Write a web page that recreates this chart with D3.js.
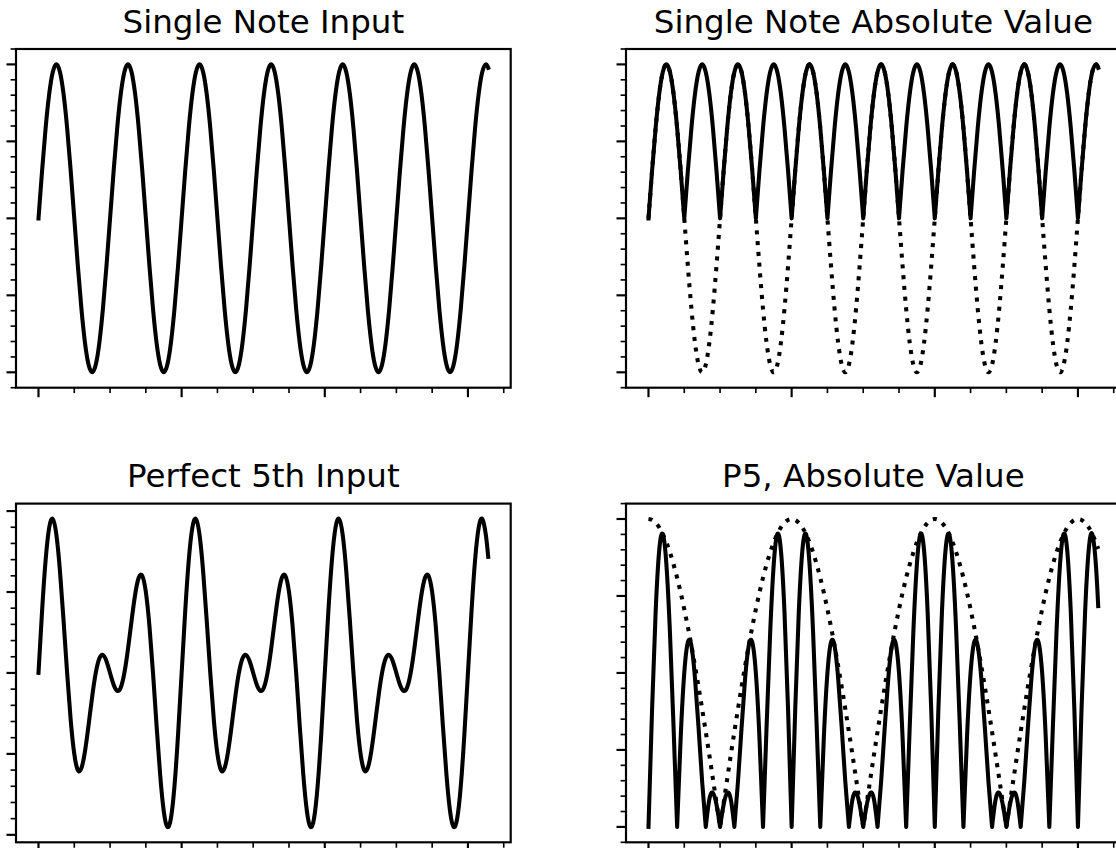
<!DOCTYPE html>
<html><head><meta charset="utf-8">
<script src="https://cdn.jsdelivr.net/npm/d3@7"></script>
<style>html,body{margin:0;padding:0;background:#fff;} svg{display:block;}</style>
</head><body>
<svg id="chart" width="1116" height="848"></svg>
<script>
// ---- data ----
const xValues = [0,0.05,0.1,0.15,0.2,0.25,0.3,0.35,0.4,0.45,0.5,0.55,0.6,0.65,0.7,0.75,0.8,0.85,0.9,0.95,
1,1.05,1.1,1.15,1.2,1.25,1.3,1.35,1.4,1.45,1.5,1.55,1.6,1.65,1.7,1.75,1.8,1.85,1.9,1.95,
2,2.05,2.1,2.15,2.2,2.25,2.3,2.35,2.4,2.45,2.5,2.55,2.6,2.65,2.7,2.75,2.8,2.85,2.9,2.95,
3,3.05,3.1,3.15,3.2,3.25,3.3,3.35,3.4,3.45,3.5,3.55,3.6,3.65,3.7,3.75,3.8,3.85,3.9,3.95,
4,4.05,4.1,4.15,4.2,4.25,4.3,4.35,4.4,4.45,4.5,4.55,4.6,4.65,4.7,4.75,4.8,4.85,4.9,4.95,
5,5.05,5.1,5.15,5.2,5.25,5.3,5.35,5.4,5.45,5.5,5.55,5.6,5.65,5.7,5.75,5.8,5.85,5.9,5.95,
6,6.05,6.1,6.15,6.2,6.25,6.2832];

const singleNote = [0,0.309,0.588,0.809,0.951,1,0.951,0.809,0.588,0.309,0,-0.309,-0.588,-0.809,-0.951,-1,-0.951,-0.809,-0.588,-0.309,
0,0.309,0.588,0.809,0.951,1,0.951,0.809,0.588,0.309,0,-0.309,-0.588,-0.809,-0.951,-1,-0.951,-0.809,-0.588,-0.309,
0,0.309,0.588,0.809,0.951,1,0.951,0.809,0.588,0.309,0,-0.309,-0.588,-0.809,-0.951,-1,-0.951,-0.809,-0.588,-0.309,
0,0.309,0.588,0.809,0.951,1,0.951,0.809,0.588,0.309,0,-0.309,-0.588,-0.809,-0.951,-1,-0.951,-0.809,-0.588,-0.309,
0,0.309,0.588,0.809,0.951,1,0.951,0.809,0.588,0.309,0,-0.309,-0.588,-0.809,-0.951,-1,-0.951,-0.809,-0.588,-0.309,
0,0.309,0.588,0.809,0.951,1,0.951,0.809,0.588,0.309,0,-0.309,-0.588,-0.809,-0.951,-1,-0.951,-0.809,-0.588,-0.309,
0,0.309,0.588,0.809,0.951,1,0.978];

const singleNoteAbs = [0,0.309,0.588,0.809,0.951,1,0.951,0.809,0.588,0.309,0,0.309,0.588,0.809,0.951,1,0.951,0.809,0.588,0.309,
0,0.309,0.588,0.809,0.951,1,0.951,0.809,0.588,0.309,0,0.309,0.588,0.809,0.951,1,0.951,0.809,0.588,0.309,
0,0.309,0.588,0.809,0.951,1,0.951,0.809,0.588,0.309,0,0.309,0.588,0.809,0.951,1,0.951,0.809,0.588,0.309,
0,0.309,0.588,0.809,0.951,1,0.951,0.809,0.588,0.309,0,0.309,0.588,0.809,0.951,1,0.951,0.809,0.588,0.309,
0,0.309,0.588,0.809,0.951,1,0.951,0.809,0.588,0.309,0,0.309,0.588,0.809,0.951,1,0.951,0.809,0.588,0.309,
0,0.309,0.588,0.809,0.951,1,0.951,0.809,0.588,0.309,0,0.309,0.588,0.809,0.951,1,0.951,0.809,0.588,0.309,
0,0.309,0.588,0.809,0.951,1,0.978];

const fifthInput = [0,0.763,1.397,1.797,1.902,1.707,1.26,0.653,0,-0.582,-1,-1.2,-1.176,-0.965,-0.642,-0.293,0,0.179,0.221,0.145,
0,-0.145,-0.221,-0.179,0,0.293,0.642,0.965,1.176,1.2,1,0.582,0,-0.653,-1.26,-1.707,-1.902,-1.797,-1.397,-0.763,
0,0.763,1.397,1.797,1.902,1.707,1.26,0.653,0,-0.582,-1,-1.2,-1.176,-0.965,-0.642,-0.293,0,0.179,0.221,0.145,
0,-0.145,-0.221,-0.179,0,0.293,0.642,0.965,1.176,1.2,1,0.582,0,-0.653,-1.26,-1.707,-1.902,-1.797,-1.397,-0.763,
0,0.763,1.397,1.797,1.902,1.707,1.26,0.653,0,-0.582,-1,-1.2,-1.176,-0.965,-0.642,-0.293,0,0.179,0.221,0.145,
0,-0.145,-0.221,-0.179,0,0.293,0.642,0.965,1.176,1.2,1,0.582,0,-0.653,-1.26,-1.707,-1.902,-1.797,-1.397,-0.763,
0,0.763,1.397,1.797,1.902,1.707,1.434];

const fifthAbs = [0,0.763,1.397,1.797,1.902,1.707,1.26,0.653,0,0.582,1,1.2,1.176,0.965,0.642,0.293,0,0.179,0.221,0.145,
0,0.145,0.221,0.179,0,0.293,0.642,0.965,1.176,1.2,1,0.582,0,0.653,1.26,1.707,1.902,1.797,1.397,0.763,
0,0.763,1.397,1.797,1.902,1.707,1.26,0.653,0,0.582,1,1.2,1.176,0.965,0.642,0.293,0,0.179,0.221,0.145,
0,0.145,0.221,0.179,0,0.293,0.642,0.965,1.176,1.2,1,0.582,0,0.653,1.26,1.707,1.902,1.797,1.397,0.763,
0,0.763,1.397,1.797,1.902,1.707,1.26,0.653,0,0.582,1,1.2,1.176,0.965,0.642,0.293,0,0.179,0.221,0.145,
0,0.145,0.221,0.179,0,0.293,0.642,0.965,1.176,1.2,1,0.582,0,0.653,1.26,1.707,1.902,1.797,1.397,0.763,
0,0.763,1.397,1.797,1.902,1.707,1.434];

const fifthEnvelope = [2,1.994,1.975,1.945,1.902,1.848,1.782,1.705,1.618,1.521,1.414,1.299,1.176,1.045,0.908,0.765,0.618,0.467,0.313,0.157,
0,0.157,0.313,0.467,0.618,0.765,0.908,1.045,1.176,1.299,1.414,1.521,1.618,1.705,1.782,1.848,1.902,1.945,1.975,1.994,
2,1.994,1.975,1.945,1.902,1.848,1.782,1.705,1.618,1.521,1.414,1.299,1.176,1.045,0.908,0.765,0.618,0.467,0.313,0.157,
0,0.157,0.313,0.467,0.618,0.765,0.908,1.045,1.176,1.299,1.414,1.521,1.618,1.705,1.782,1.848,1.902,1.945,1.975,1.994,
2,1.994,1.975,1.945,1.902,1.848,1.782,1.705,1.618,1.521,1.414,1.299,1.176,1.045,0.908,0.765,0.618,0.467,0.313,0.157,
0,0.157,0.313,0.467,0.618,0.765,0.908,1.045,1.176,1.299,1.414,1.521,1.618,1.705,1.782,1.848,1.902,1.945,1.975,1.994,
2,1.994,1.975,1.945,1.902,1.848,1.805];

const titles = ["Single Note Input", "Single Note Absolute Value", "Perfect 5th Input", "P5, Absolute Value"];
const xMajorTicks = [0, 2, 4, 6];
const xMinorStep = 0.5;
const yMajorTicksUnit = [-1, -0.5, 0, 0.5, 1];
const yMajorTicksFifth = [-2, -1, 0, 1, 2];
const yMajorTicksFifthAbs = [0, 0.5, 1, 1.5, 2];

// ---- layout ----
const svg = d3.select("#chart");
const PW = 494.7, PH = 338.7;
const LW = 4.06, SPINE = 2.17;
const panels = [
  {left: 16, top: 49, title: titles[0], yTicks: yMajorTicksUnit, yMinor: 0.1,
   series: [{y: singleNote, dotted: false, cusp: false}]},
  {left: 626, top: 49, title: titles[1], yTicks: yMajorTicksUnit, yMinor: 0.1,
   series: [{y: singleNote, dotted: true, cusp: false}, {y: singleNoteAbs, dotted: false, cusp: true}]},
  {left: 16, top: 503.6, title: titles[2], yTicks: yMajorTicksFifth, yMinor: 0.2,
   series: [{y: fifthInput, dotted: false, cusp: false}]},
  {left: 626, top: 503.6, title: titles[3], yTicks: yMajorTicksFifthAbs, yMinor: 0.1,
   series: [{y: fifthAbs, dotted: false, cusp: true}, {y: fifthEnvelope, dotted: true, cusp: true}]}
];

function padded(ext) { const d = (ext[1] - ext[0]) * 0.05; return [ext[0] - d, ext[1] + d]; }
function minors(domain, step, majors) {
  const out = [];
  const start = Math.ceil(domain[0] / step - 1e-9);
  for (let i = start; i * step <= domain[1] + 1e-9; i++) {
    const v = +(i * step).toFixed(6);
    if (!majors.some(m => Math.abs(m - v) < 1e-6)) out.push(v);
  }
  return out;
}
function pathFor(line, pts, cusp) {
  if (!cusp) return line(pts);
  const segs = []; let cur = [pts[0]];
  for (let i = 1; i < pts.length; i++) {
    cur.push(pts[i]);
    if (pts[i][1] === 0 && i < pts.length - 1) { segs.push(cur); cur = [pts[i]]; }
  }
  segs.push(cur);
  return segs.map((s, i) => { const d = line(s); return i === 0 ? d : d.slice(d.search(/[CL]/)); }).join("");
}

const xExtent = d3.extent(xValues);

panels.forEach(p => {
  const g = svg.append("g");
  const x = d3.scaleLinear().domain(padded(xExtent)).range([p.left, p.left + PW]);
  const allY = p.series.flatMap(s => s.y);
  const y = d3.scaleLinear().domain(padded(d3.extent(allY))).range([p.top + PH, p.top]);
  const line = d3.line().x(d => x(d[0])).y(d => y(d[1])).curve(d3.curveNatural);

  const clipId = "clip" + p.left + "_" + Math.round(p.top);
  svg.append("clipPath").attr("id", clipId).append("rect")
    .attr("x", p.left).attr("y", p.top).attr("width", PW).attr("height", PH);

  p.series.forEach(s => {
    const pts = xValues.map((xv, i) => [xv, s.y[i]]);
    g.append("path")
      .attr("d", pathFor(line, pts, s.cusp))
      .attr("clip-path", `url(#${clipId})`)
      .attr("fill", "none").attr("stroke", "#000").attr("stroke-width", LW)
      .attr("stroke-linejoin", "round")
      .attr("stroke-linecap", s.dotted ? "butt" : "square")
      .attr("stroke-dasharray", s.dotted ? `${LW} ${(LW * 1.65).toFixed(2)}` : null);
  });

  // spines
  g.append("rect").attr("x", p.left).attr("y", p.top).attr("width", PW).attr("height", PH)
    .attr("fill", "none").attr("stroke", "#000").attr("stroke-width", SPINE);

  // x ticks
  const yb = p.top + PH;
  xMajorTicks.forEach(t => g.append("line").attr("x1", x(t)).attr("x2", x(t)).attr("y1", yb).attr("y2", yb + 9.5)
    .attr("stroke", "#000").attr("stroke-width", 2.17));
  minors(x.domain(), xMinorStep, xMajorTicks).forEach(t => g.append("line").attr("x1", x(t)).attr("x2", x(t))
    .attr("y1", yb).attr("y2", yb + 5.4).attr("stroke", "#000").attr("stroke-width", 1.63));
  // y ticks
  p.yTicks.forEach(t => g.append("line").attr("y1", y(t)).attr("y2", y(t)).attr("x1", p.left).attr("x2", p.left - 9.5)
    .attr("stroke", "#000").attr("stroke-width", 2.17));
  minors(y.domain(), p.yMinor, p.yTicks).forEach(t => g.append("line").attr("y1", y(t)).attr("y2", y(t))
    .attr("x1", p.left).attr("x2", p.left - 5.4).attr("stroke", "#000").attr("stroke-width", 1.63));

  // title
  g.append("text").attr("x", p.left + PW / 2).attr("y", p.top - 16.25)
    .attr("text-anchor", "middle").attr("font-family", "DejaVu Sans").attr("font-size", "32.5px")
    .attr("fill", "#000").text(p.title);
});
</script>
</body></html>
